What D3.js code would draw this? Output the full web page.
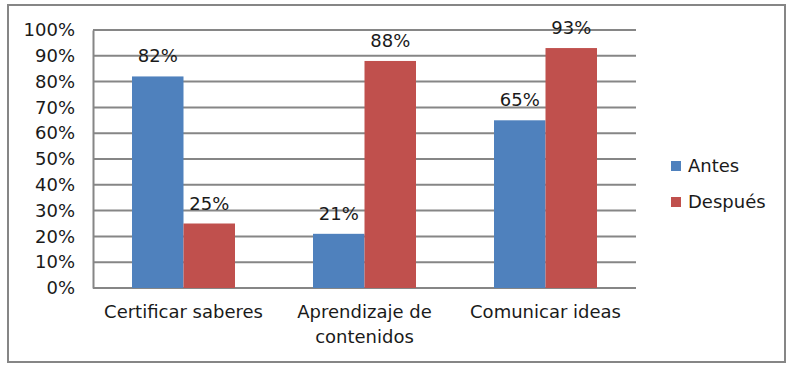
<!DOCTYPE html>
<html>
<head>
<meta charset="utf-8">
<script src="https://cdn.jsdelivr.net/npm/d3@7"></script>
<style>
  body { margin: 0; background: #fff; }
  text { font-family: "DejaVu Sans", sans-serif; fill: #1a1a1a; }
</style>
</head>
<body>
<div id="chart"></div>
<script>
const categories = ["Certificar saberes", "Aprendizaje de contenidos", "Comunicar ideas"];
const seriesNames = ["Antes", "Después"];
const antes = [0.82, 0.21, 0.65];
const despues = [0.25, 0.88, 0.93];
const colors = ["#4f81bd", "#c0504d"];
const yTicks = [0, 0.1, 0.2, 0.3, 0.4, 0.5, 0.6, 0.7, 0.8, 0.9, 1];

const W = 793, H = 366;
const plot = {left: 93, right: 636, top: 30, bottom: 288};
const fontSize = 18;

const svg = d3.select("#chart").append("svg").attr("width", W).attr("height", H);

// frame around the whole chart
svg.append("rect").attr("x", 8).attr("y", 5).attr("width", 777).attr("height", 357)
  .attr("fill", "none").attr("stroke", "#868686").attr("stroke-width", 2);

const y = d3.scaleLinear().domain([0, 1]).range([plot.bottom, plot.top]);
const x0 = d3.scaleBand().domain(categories).range([plot.left, plot.right]).paddingInner(0).paddingOuter(0);
const x1 = d3.scaleBand().domain(seriesNames).range([0, 103]);
const groupOffset = (x0.bandwidth() - 103) / 2;

// gridlines
svg.append("g").selectAll("line").data(yTicks).enter().append("line")
  .attr("x1", plot.left).attr("x2", plot.right)
  .attr("y1", d => y(d)).attr("y2", d => y(d))
  .attr("stroke", "#868686").attr("stroke-width", 2);

// left axis
const yAxis = d3.axisLeft(y).tickValues(yTicks).tickFormat(d3.format(".0%")).tickSize(0).tickPadding(18);
const gy = svg.append("g").attr("transform", `translate(${plot.left},0)`).call(yAxis);
gy.select(".domain").attr("stroke", "#868686").attr("stroke-width", 2);
gy.selectAll("text").style("font-size", fontSize + "px").attr("fill", "#1a1a1a").style("font-family", null);

const data = categories.map((c, i) => ({cat: c, vals: [antes[i], despues[i]]}));

const groups = svg.append("g").selectAll("g").data(data).enter().append("g")
  .attr("transform", d => `translate(${x0(d.cat) + groupOffset},0)`);

groups.selectAll("rect").data(d => d.vals.map((v, j) => ({s: seriesNames[j], v, j}))).enter().append("rect")
  .attr("x", d => x1(d.s))
  .attr("width", x1.bandwidth())
  .attr("y", d => y(d.v))
  .attr("height", d => plot.bottom - y(d.v))
  .attr("fill", d => colors[d.j]);

groups.selectAll("text.lbl").data(d => d.vals.map((v, j) => ({s: seriesNames[j], v, j}))).enter().append("text")
  .attr("class", "lbl")
  .attr("x", d => x1(d.s) + x1.bandwidth() / 2)
  .attr("y", d => y(d.v) - 14)
  .attr("text-anchor", "middle")
  .style("font-size", fontSize + "px")
  .text(d => d3.format(".0%")(d.v));

// category labels (wrapped like the original)
const catLines = {
  "Certificar saberes": ["Certificar saberes"],
  "Aprendizaje de contenidos": ["Aprendizaje de", "contenidos"],
  "Comunicar ideas": ["Comunicar ideas"]
};
svg.append("g").selectAll("text").data(categories).enter().append("text")
  .attr("x", d => x0(d) + x0.bandwidth() / 2)
  .attr("y", 318)
  .attr("text-anchor", "middle")
  .style("font-size", fontSize + "px")
  .each(function(d) {
    d3.select(this).selectAll("tspan").data(catLines[d]).enter().append("tspan")
      .attr("x", x0(d) + x0.bandwidth() / 2)
      .attr("dy", (t, i) => i === 0 ? 0 : 25)
      .text(t => t);
  });

// legend
const legend = svg.append("g").selectAll("g").data(seriesNames).enter().append("g")
  .attr("transform", (d, i) => `translate(671,${161 + i * 36})`);
legend.append("rect").attr("width", 10).attr("height", 10).attr("fill", (d, i) => colors[i]);
legend.append("text").attr("x", 17).attr("y", 11).style("font-size", fontSize + "px").text(d => d);
</script>
</body>
</html>
